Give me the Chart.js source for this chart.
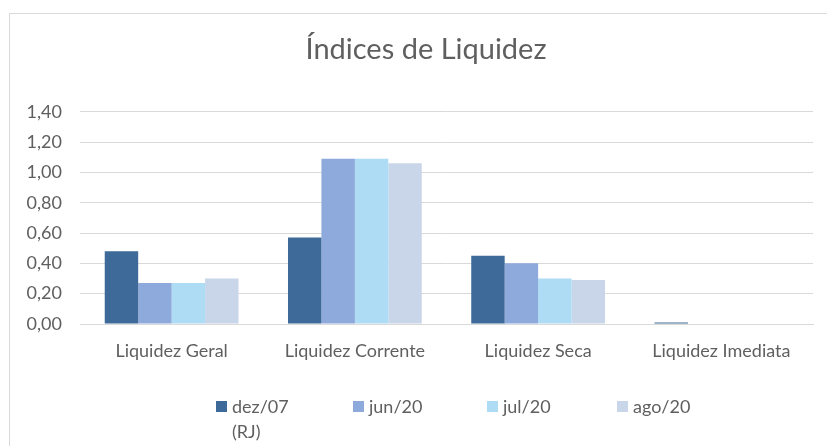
<!DOCTYPE html>
<html>
<head>
<meta charset="utf-8">
<script src="https://cdn.jsdelivr.net/npm/chart.js@4"></script>
<style>
  body { margin: 0; background: #fff; overflow: hidden; }
  #frame { position: absolute; left: 9px; top: 13px; width: 840px; height: 460px; border: 1px solid #d9d9d9; }
  #wrap { position: absolute; left: 0; top: 0; width: 852px; height: 446px; }
</style>
</head>
<body>
<div id="frame"></div>
<div id="wrap"><canvas id="liqChart"></canvas></div>
<script>
const categories = ['Liquidez Geral', 'Liquidez Corrente', 'Liquidez Seca', 'Liquidez Imediata'];
const seriesNames = ['dez/07\n(RJ)', 'jun/20', 'jul/20', 'ago/20'];
const dez07 = [0.48, 0.57, 0.45, 0.01];
const jun20 = [0.27, 1.09, 0.40, 0.00];
const jul20 = [0.27, 1.09, 0.30, 0.00];
const ago20 = [0.30, 1.06, 0.29, 0.00];
const seriesColors = ['#3d6a98', '#8ea9db', '#addcf4', '#c9d6ea'];
const yTicks = [0, 0.2, 0.4, 0.6, 0.8, 1.0, 1.2, 1.4];

const textColor = '#5f5f5f';
const fontFamily = 'Lato, "Open Sans", sans-serif';

// legend drawn by hand so items sit where Excel put them and the first one can wrap
const evenLegend = {
    id: 'evenLegend',
    afterDraw(chart, args, opts) {
        const c = chart.ctx;
        c.save();
        c.font = `18px ${fontFamily}`;
        c.textBaseline = 'middle';
        chart.data.datasets.forEach((ds, i) => {
            const x = opts.xs[i];
            c.fillStyle = ds.backgroundColor;
            c.fillRect(x, opts.y - 6, 11, 11);
            c.fillStyle = textColor;
            ds.label.split('\n').forEach((line, j) => {
                c.fillText(line, x + 16, opts.y + j * 25);
            });
        });
        c.restore();
    }
};

const ctx = document.getElementById('liqChart').getContext('2d');
const liqChart = new Chart(ctx, {
    type: 'bar',
    data: {
        labels: categories,
        datasets: [dez07, jun20, jul20, ago20].map((vals, i) => ({
            label: seriesNames[i],
            data: vals,
            backgroundColor: seriesColors[i],
            categoryPercentage: 0.73,
            barPercentage: 1.0
        }))
    },
    options: {
        responsive: true,
        maintainAspectRatio: false,
        animation: false,
        layout: { padding: 0 },
        plugins: {
            legend: { display: false },
            tooltip: { enabled: false },
            title: {
                display: true,
                text: 'Índices de Liquidez',
                color: textColor,
                font: { family: fontFamily, size: 29, weight: 'normal' },
                padding: { top: 32, bottom: 45 }
            },
            evenLegend: { xs: [216, 353, 487, 617], y: 407 }
        },
        scales: {
            x: {
                grid: { display: false, drawTicks: false },
                border: { color: '#d9d9d9' },
                ticks: { color: textColor, font: { family: fontFamily, size: 18 }, padding: 16 },
                afterFit: (scale) => { scale.height = 122; }
            },
            y: {
                min: 0,
                max: 1.4,
                afterBuildTicks: (scale) => { scale.ticks = yTicks.map(v => ({ value: v })); },
                grid: { color: '#d9d9d9', drawTicks: false },
                border: { display: false },
                ticks: {
                    color: textColor,
                    font: { family: fontFamily, size: 18 },
                    padding: 18,
                    callback: (v) => Number(v).toFixed(2).replace('.', ',')
                },
                afterFit: (scale) => { scale.width = 80; }
            },
            // empty right-hand spacer, keeps the plot's right edge without narrowing the title box
            spacer: {
                position: 'right',
                min: 0,
                max: 1.4,
                grid: { display: false, drawTicks: false },
                border: { display: false },
                ticks: { display: false },
                afterFit: (scale) => { scale.width = 39; }
            }
        }
    },
    plugins: [evenLegend]
});
</script>
</body>
</html>
